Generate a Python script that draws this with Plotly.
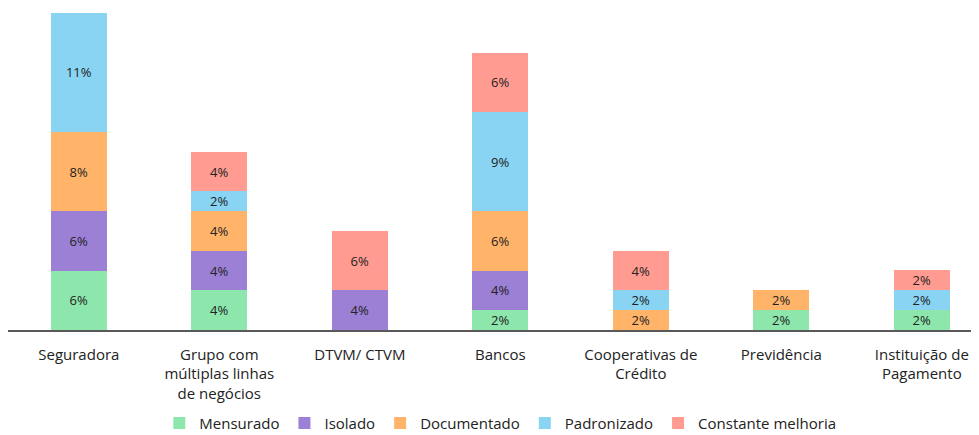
import plotly.graph_objects as go

categories = ["Seguradora", "Grupo com<br>múltiplas linhas<br>de negócios", "DTVM/ CTVM", "Bancos",
              "Cooperativas de<br>Crédito", "Previdência", "Instituição de<br>Pagamento"]

mensurado   = [5.66, 3.77, None, 1.89, None, 1.89, 1.89]
isolado     = [5.66, 3.77, 3.77, 3.77, None, None, None]
documentado = [7.55, 3.77, None, 5.66, 1.89, 1.89, None]
padronizado = [11.32, 1.89, None, 9.43, 1.89, None, 1.89]
constante   = [None, 3.77, 5.66, 5.66, 3.77, None, 1.89]

series = [
    ("Mensurado", mensurado, "#8DE7AC"),
    ("Isolado", isolado, "#9B80D5"),
    ("Documentado", documentado, "#FFB46A"),
    ("Padronizado", padronizado, "#88D4F2"),
    ("Constante melhoria", constante, "#FF9B90"),
]

FONT = "Open Sans"
fig = go.Figure()
for name, vals, color in series:
    fig.add_trace(go.Bar(
        x=list(range(len(categories))), y=vals, name=name,
        marker=dict(color=color, line=dict(width=0)),
        texttemplate="%{y:.0f}%", textposition="inside", insidetextanchor="middle",
        textangle=0, textfont=dict(size=13, color="#222222", family=FONT),
        hoverinfo="skip",
    ))

fig.update_layout(
    barmode="stack", bargap=0.6,
    width=971, height=427,
    margin=dict(l=0, r=0, t=2, b=105, autoexpand=False),
    paper_bgcolor="white", plot_bgcolor="white",
    font=dict(family=FONT, size=15, color="#222222"),
    uniformtext=dict(mode="show", minsize=13),
    xaxis=dict(tickmode="array", tickvals=list(range(len(categories))), ticktext=categories,
               range=[-0.504, 6.407], showline=True, linecolor="#595959", linewidth=1.5,
               showgrid=False, zeroline=False, ticks="", automargin=False, ticklabelstandoff=10,
               tickfont=dict(size=15, color="#222222")),
    yaxis=dict(range=[0, 30.48], showticklabels=False, showgrid=False, zeroline=False,
               showline=False, automargin=False),
    legend=dict(orientation="h", x=0.507, xanchor="center", y=-0.24, yanchor="top",
                font=dict(size=15, color="#222222"), traceorder="normal", itemwidth=30),
    showlegend=True,
)

fig.write_html("out.html")
